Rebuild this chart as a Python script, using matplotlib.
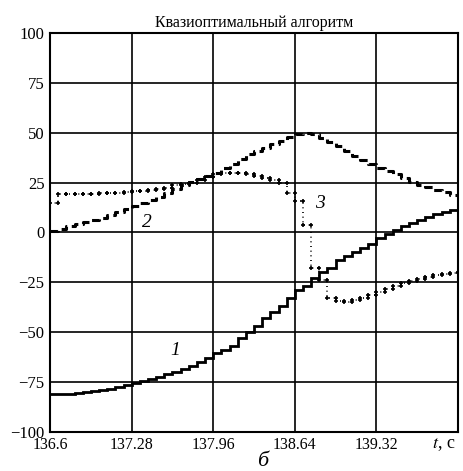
import numpy as np
import matplotlib
matplotlib.use("Agg")
import matplotlib.pyplot as plt

plt.rcParams.update({"font.family": "Liberation Serif"})

# sample times, s (step 0.068 s)
t = 136.6 + 0.068 * np.arange(51)

# curve 1 - solid staircase
v1 = [-81, -81, -81, -80.5, -80, -79.5, -79, -78.5, -77.5, -76.5,
      -75.5, -74.5, -73.5, -72.5, -71, -70, -68.5, -67, -65, -63,
      -60.5, -59, -57, -53, -50, -47, -43, -40, -37, -33,
      -29, -27, -23, -20, -18, -14, -12, -10, -8, -6,
      -3, -1, 1, 3, 4.5, 6, 7.5, 9, 10, 11, 12]

# curve 2 - dashed
v2 = [0.5, 1.5, 3, 4, 5, 6, 7, 8.5, 10, 12,
      13.5, 15, 16.5, 18, 20, 22, 24, 25.5, 27, 28.5,
      30, 32.5, 34.5, 37, 39.5, 41, 42.5, 44.5, 46, 48,
      49.5, 50, 49.5, 47.5, 45.5, 43.5, 41, 38.5, 36.5, 34.5,
      32.5, 31, 29.5, 27.5, 25.5, 24, 23, 21.5, 20.5, 19, 18.5]

# curve 3 - dotted with crosses
v3 = [15, 19.5, 19.5, 19.5, 19.5, 19.5, 20, 20, 20, 20.5,
      21, 21, 21.5, 22, 22.5, 24, 24.5, 25, 26.5, 28,
      29.5, 30, 30, 30, 29.5, 28.5, 27.5, 26.5, 25, 20,
      16, 3.5, -18, -24, -33, -34.5, -35, -34, -33, -31.5,
      -30, -28.5, -27, -25.5, -24.5, -23.5, -22.5, -21.5, -21, -20.5, -20]

xticks = [136.6, 137.28, 137.96, 138.64, 139.32, 140.0]
xticklabels = ["136.6", "137.28", "137.96", "138.64", "139.32", ""]
yticks = [-100, -75, -50, -25, 0, 25, 50, 75, 100]


def step_path(x, y):
    x = np.asarray(x)
    y = np.asarray(y)
    xs = np.repeat(x, 2)[1:]
    ys = np.repeat(y, 2)[:-1]
    return xs, ys


fig = plt.figure(figsize=(4.64, 4.71), dpi=100)
ax = fig.add_axes([0.108, 0.083, 0.879, 0.847])

ax.step(t, v1, where="post", color="black", lw=2.0, solid_joinstyle="miter")
ax.step(t, v2, where="post", color="black", lw=2.2, dashes=(2.8, 1.5))
xs, ys = step_path(t, v3)
ax.plot(xs, ys, color="black", lw=1.2, ls=(0, (0.6, 2.2)),
        marker="+", ms=3.5, mew=1.2)

ax.set_xlim(136.6, 140.0)
ax.set_ylim(-100, 100)
ax.set_xticks(xticks)
ax.set_xticklabels(xticklabels)
ax.set_yticks(yticks)
ax.tick_params(length=0, labelsize=12, pad=4)
ax.tick_params(axis="x", labelsize=11.5, pad=4)
ax.grid(True, color="black", lw=1.2)
for s in ax.spines.values():
    s.set_linewidth(1.5)

ax.set_title("Квазиоптимальный алгоритм", fontsize=11.5, pad=4)

ax.text(137.64, -59, "1", fontsize=14, style="italic", ha="center", va="center")
ax.text(137.41, 5, "2", fontsize=14, style="italic", ha="center", va="center")
ax.text(138.85, 14.5, "3", fontsize=14, style="italic", ha="center", va="center")

ax.text(139.88, -102, "$t$, с", fontsize=13, ha="center", va="top",
        math_fontfamily="stix")
fig.text(0.565, 0.04, "б", fontsize=16, style="italic", ha="center", va="top")

fig.savefig("out.png", dpi=100)
